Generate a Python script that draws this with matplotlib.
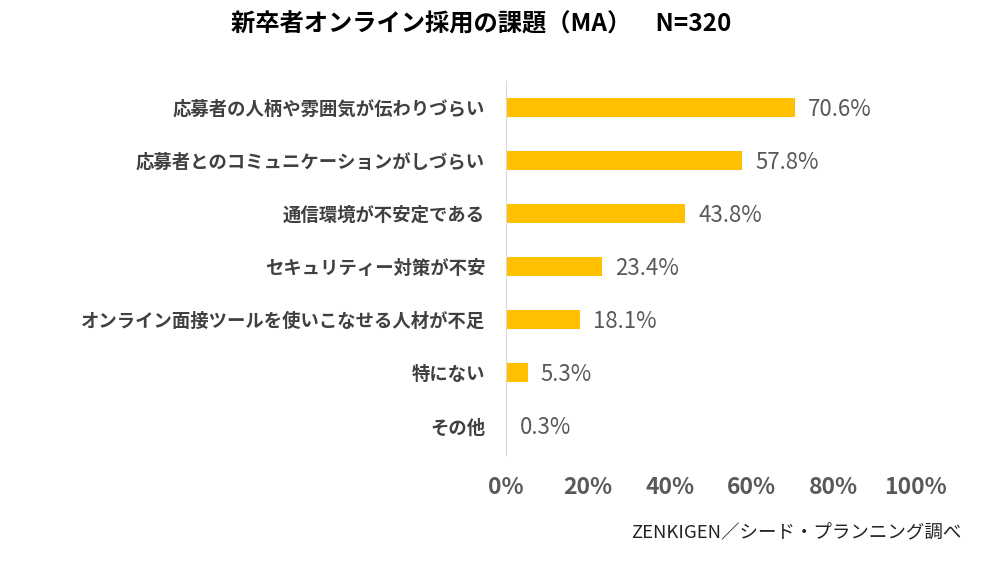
import matplotlib
matplotlib.use('Agg')
from matplotlib import pyplot as plt

plt.rcParams['font.family'] = ['Noto Sans CJK JP', 'DejaVu Sans']

categories = ['応募者の人柄や雰囲気が伝わりづらい',
              '応募者とのコミュニケーションがしづらい',
              '通信環境が不安定である',
              'セキュリティー対策が不安',
              'オンライン面接ツールを使いこなせる人材が不足',
              '特にない',
              'その他']
values = [70.6, 57.8, 43.8, 23.4, 18.1, 5.3, 0.3]
ticks = [0, 20, 40, 60, 80, 100]
tick_labels = ['0%', '20%', '40%', '60%', '80%', '100%']

fig = plt.figure(figsize=(10, 5.76), dpi=100)
ax = fig.add_axes([0.506, 0.21, 0.409, 0.65])

pos = list(range(len(categories)))
ax.barh(pos, values, height=0.36, color='#FFC000')
ax.set_ylim(6.55, -0.5)
ax.set_xlim(0, 100)

for p, v in zip(pos, values):
    ax.text(v + 3.2, p + 0.04, f'{v}%', va='center', ha='left', fontsize=16,
            color='#595959')

ax.set_yticks(pos)
ax.set_yticklabels(categories, fontsize=13.2, fontweight='bold', color='#404040')
ax.tick_params(axis='y', length=0, pad=15)
ax.set_xticks(ticks)
ax.set_xticklabels(tick_labels, fontsize=16.5, fontweight='bold', color='#595959')
ax.tick_params(axis='x', length=0, pad=15)

for s in ['top', 'right', 'bottom']:
    ax.spines[s].set_visible(False)
ax.spines['left'].set_color('#D9D9D9')

fig.text(0.481, 0.958, '新卒者オンライン採用の課題（MA）\u3000N=320', ha='center', va='center',
         fontsize=17.5, fontweight='bold', color='#000000')
fig.text(0.961, 0.076, 'ZENKIGEN／シード・プランニング調べ', ha='right', va='center',
         fontsize=13.3, color='#222222')

fig.savefig('out.png', dpi=100)
